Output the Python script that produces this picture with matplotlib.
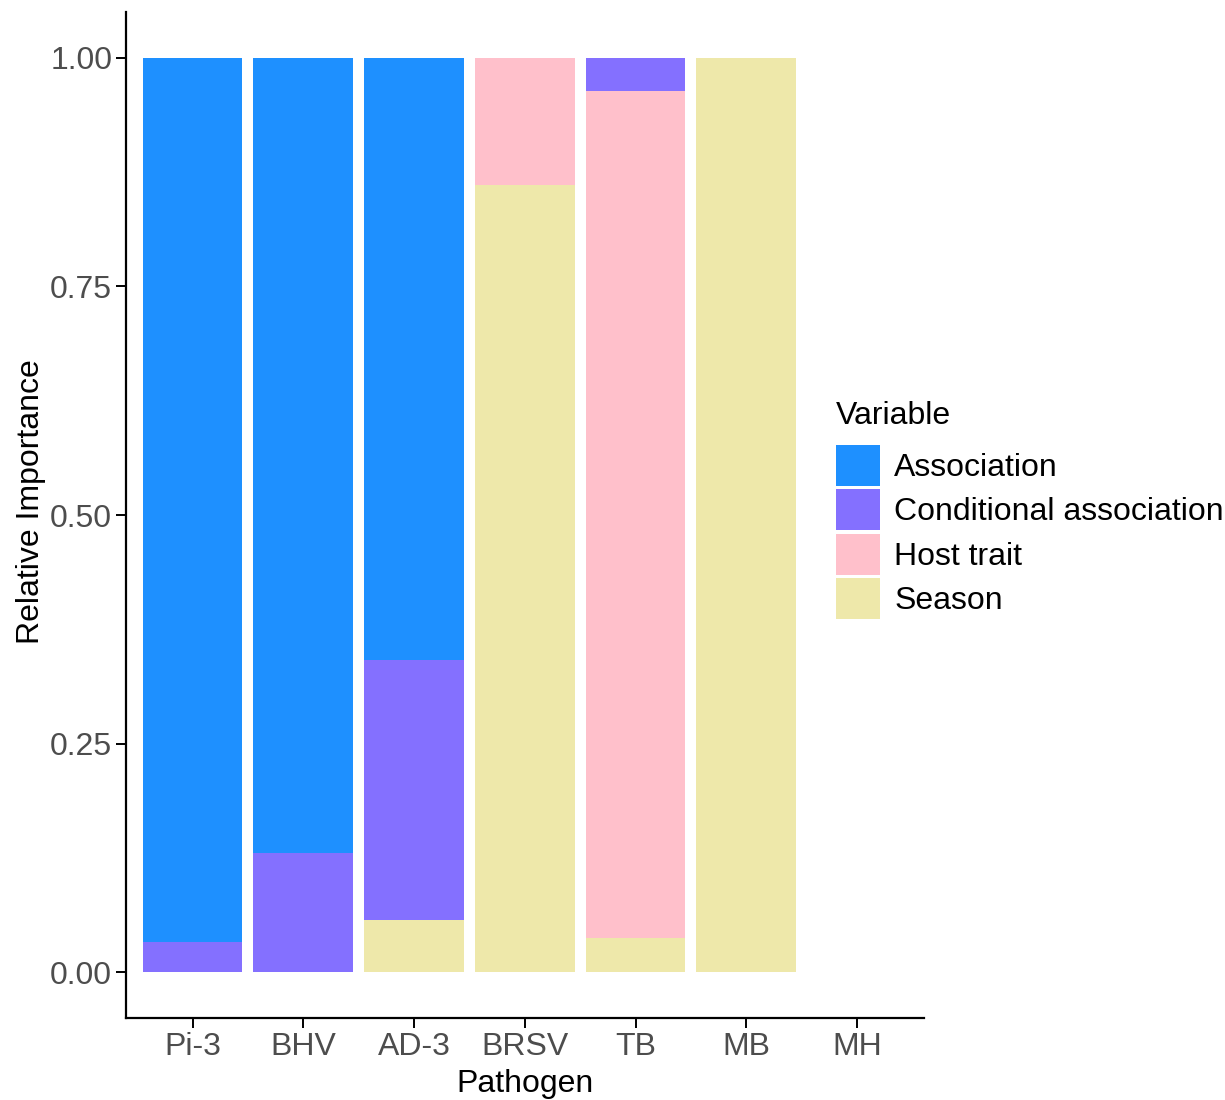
"""Stacked relative-importance bars per pathogen (ggplot classic look)"""

import matplotlib.pyplot as plt
import numpy as np
from matplotlib.patches import Patch

plt.rcParams['font.family'] = ['Liberation Sans', 'DejaVu Sans']

pathogens = ['Pi-3', 'BHV', 'AD-3', 'BRSV', 'TB', 'MB', 'MH']

# stacked bottom -> top: Season, Host trait, Conditional association, Association
season = [0.0, 0.0, 0.057, 0.861, 0.037, 1.0, 0.0]
host_trait = [0.0, 0.0, 0.0, 0.139, 0.927, 0.0, 0.0]
conditional = [0.033, 0.130, 0.284, 0.0, 0.036, 0.0, 0.0]
association = [0.967, 0.870, 0.659, 0.0, 0.0, 0.0, 0.0]

legend_order = ['Association', 'Conditional association', 'Host trait', 'Season']
colors = {
    'Association': '#1E90FF',
    'Conditional association': '#8470FF',
    'Host trait': '#FFC0CB',
    'Season': '#EEE8AA',
}

fig = plt.figure(figsize=(12.25, 11), dpi=100)
ax = fig.add_axes([0.1029, 0.0745, 0.651, 0.9145])

x = np.arange(1, len(pathogens) + 1)
bottom = np.zeros(len(pathogens))
for name, vals in [('Season', season), ('Host trait', host_trait),
                   ('Conditional association', conditional), ('Association', association)]:
    vals = np.array(vals)
    ax.bar(x, vals, width=0.9, bottom=bottom, color=colors[name], linewidth=0)
    bottom += vals

ax.set_xlim(0.4, len(pathogens) + 0.6)
ax.set_ylim(-0.05, 1.05)
ax.set_xticks(x)
ax.set_xticklabels(pathogens)
ax.set_yticks([0, 0.25, 0.5, 0.75, 1.0])
ax.set_yticklabels(['0.00', '0.25', '0.50', '0.75', '1.00'])

for side in ['top', 'right']:
    ax.spines[side].set_visible(False)
for side in ['left', 'bottom']:
    ax.spines[side].set_linewidth(1.6)
ax.tick_params(axis='both', length=7, width=1.4, labelsize=23, labelcolor='#4D4D4D', pad=3)

ax.set_xlabel('Pathogen', fontsize=23, labelpad=5)
ax.set_ylabel('Relative Importance', fontsize=23)
ax.yaxis.set_label_coords(-0.1, 0.513)

handles = [Patch(facecolor=colors[n], edgecolor='none') for n in legend_order]
leg = ax.legend(handles, legend_order, title='Variable', loc='center left',
                bbox_to_anchor=(0.89, 0.505), frameon=False, fontsize=23, title_fontsize=23,
                handlelength=1.38, handleheight=1.6, labelspacing=0.11, handletextpad=0.45,
                borderpad=0, borderaxespad=0)
leg._legend_box.align = 'left'
leg._legend_box.sep = 10  # extra room between title and keys

plt.savefig('out.png', dpi=100)
plt.close()
